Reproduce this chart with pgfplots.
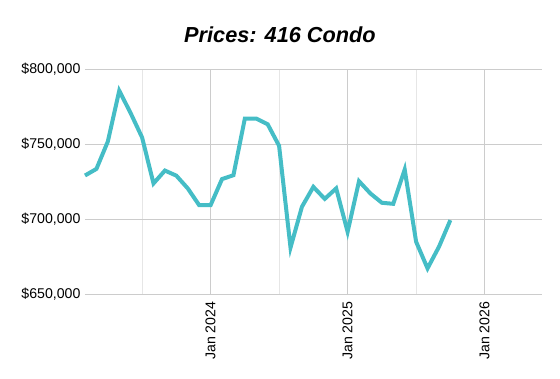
\documentclass[border=0pt]{standalone}
\usepackage{pgfplots}
\pgfplotsset{compat=1.18}
\usepackage{fontspec}
\setmainfont{Liberation Sans}
\definecolor{linec}{RGB}{69,189,198}
\definecolor{gridc}{RGB}{204,204,204}
\definecolor{minorc}{RGB}{230,230,230}
\begin{document}
\begin{tikzpicture}
\path[use as bounding box] (-85bp,-85bp) rectangle (475bp,294bp);
\begin{axis}[
  at={(0,0)}, anchor=south west,
  scale only axis, width=456.7bp, height=224.7bp,
  xmin=-11, xmax=29, ymin=650000, ymax=800000,
  scaled ticks=false,
  axis line style={draw=none}, tick style={draw=none},
  xtick={0,12,24}, xticklabels={Jan 2024,Jan 2025,Jan 2026},
  minor xtick={-6,6,18},
  ytick={650000,700000,750000,800000},
  yticklabels={{\$650,000},{\$700,000},{\$750,000},{\$800,000}},
  xmajorgrids, ymajorgrids, xminorgrids,
  major grid style={draw=gridc, line width=0.8pt},
  minor grid style={draw=minorc, line width=0.8pt},
  x tick label style={rotate=90, anchor=east, font=\fontsize{14.2}{16}\selectfont},
  y tick label style={font=\fontsize{14.2}{16}\selectfont},
  xticklabel shift=4bp, yticklabel shift=1bp,
  clip=false,
]
\addplot[linec, line width=4bp, line join=miter] coordinates {
(-11,729100) (-10,733500) (-9,751800) (-8,785700) (-7,770700) (-6,754500)
(-5,723800) (-4,732400) (-3,729000) (-2,720500) (-1,709300) (0,709300)
(1,726700) (2,729300) (3,767100) (4,767100) (5,763300) (6,748900)
(7,681000) (8,708200) (9,721500) (10,713500) (11,720500) (12,691500)
(13,725300) (14,717100) (15,710900) (16,710200) (17,733100) (18,684900)
(19,667100) (20,681500) (21,699300)
};
\end{axis}
\node[font=\fontsize{21.8}{26}\selectfont\bfseries\itshape] at (195bp,259bp) {Prices: 416 Condo};
\end{tikzpicture}
\end{document}
